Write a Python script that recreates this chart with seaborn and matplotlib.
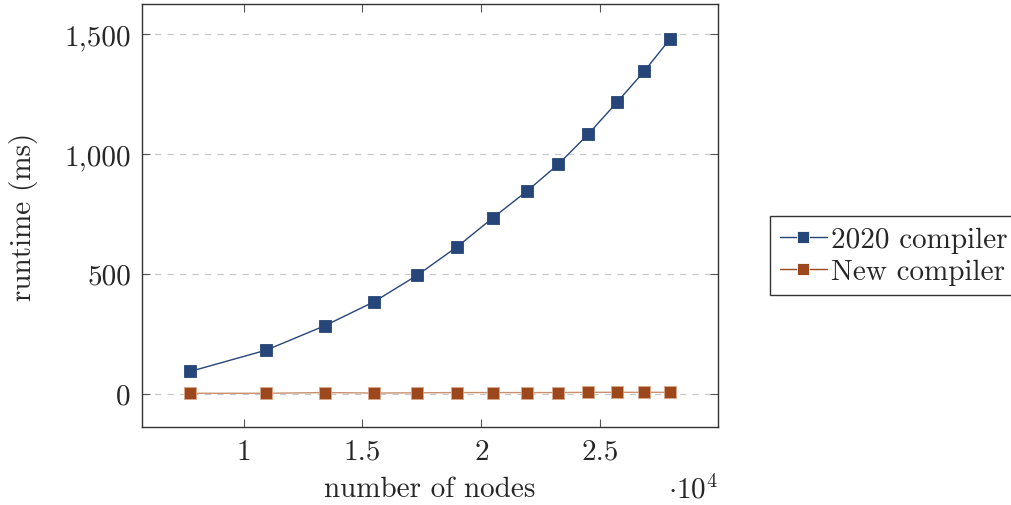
import seaborn as sns
import matplotlib.pyplot as plt
import matplotlib.ticker as mticker
import pandas as pd

# data
nodes = [7750, 10950, 13420, 15490, 17310, 18990, 20470, 21910, 23240, 24490, 25700, 26840, 27930]
old_ms = [92, 181, 283, 383, 494, 613, 732, 844, 957, 1082, 1215, 1344, 1479]
new_ms = [1, 1, 4, 2, 3, 4, 4, 4, 4, 5, 5, 5, 5]
series = ["2020 compiler", "New compiler"]
colors = ["#264679", "#9c471c"]

df = pd.DataFrame({
    "nodes": nodes + nodes,
    "runtime": old_ms + new_ms,
    "series": [series[0]] * len(nodes) + [series[1]] * len(nodes),
})

sns.set_style("ticks")
plt.rcParams["font.family"] = ["cmr10", "DejaVu Serif"]
plt.rcParams["mathtext.fontset"] = "cm"
plt.rcParams["axes.formatter.use_mathtext"] = True

fs = 21
fig = plt.figure(figsize=(10.11, 5.06), dpi=100)
ax = fig.add_axes([0.1405, 0.154, 0.5697, 0.836])

sns.lineplot(data=df, x="nodes", y="runtime", hue="series", palette=colors,
             marker="s", markersize=8.5, markeredgewidth=0.6, linewidth=1,
             ax=ax)
for line, c in zip(ax.get_lines(), colors):
    line.set_markeredgecolor(c)
ax.get_lines()[1].set_color("#c8906f")
ax.get_lines()[1].set_markerfacecolor(colors[1])
ax.get_lines()[1].set_markeredgecolor("#d9a98c")

ax.margins(x=0.1)
ax.set_ylim(-140, 1625)
ax.set_xticks([10000, 15000, 20000, 25000])
ax.xaxis.set_major_formatter(mticker.FuncFormatter(lambda v, p: f"{v / 1e4:g}"))
ax.set_yticks([0, 500, 1000, 1500])
ax.yaxis.set_major_formatter(mticker.FuncFormatter(lambda v, p: f"{int(v):,}"))
ax.yaxis.grid(True, linestyle=(0, (5, 5)), color="#c8c8c8", linewidth=0.9)

ax.tick_params(direction="in", length=6, width=0.8, color="#555555",
               top=True, right=True, labelsize=fs, pad=8)
for s in ax.spines.values():
    s.set_linewidth(1)
    s.set_color("#333333")

ax.set_xlabel("number of nodes", fontsize=fs, va="center")
ax.xaxis.set_label_coords(0.5, -0.147)
ax.set_ylabel("runtime (ms)", fontsize=fs, va="center")
ax.yaxis.set_label_coords(-0.205, 0.5)
ax.text(1.0, -0.147, r"$\cdot 10^4$", transform=ax.transAxes, fontsize=fs,
        ha="right", va="center")

leg = ax.legend(loc="center left", bbox_to_anchor=(1.09, 0.405), fontsize=fs,
                frameon=True, fancybox=False, edgecolor="black",
                handlelength=1.6, handletextpad=0.15, borderpad=0.35,
                labelspacing=0.2, borderaxespad=0)
leg.get_frame().set_linewidth(1)

fig.savefig("out.png", dpi=100)
